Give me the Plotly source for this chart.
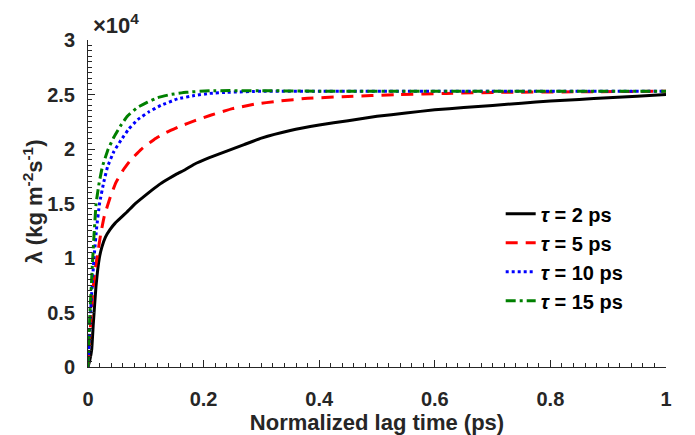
import plotly.graph_objects as go

# Normalized lag time (ps) and lambda values (x 1e4 kg m^-2 s^-1)
t_2 = [0.0, 0.003, 0.0064, 0.0092, 0.0138, 0.0196, 0.024, 0.03, 0.038, 0.047, 0.057, 0.067, 0.08, 0.096, 0.11, 0.125, 0.14, 0.153, 0.168, 0.184, 0.21, 0.24, 0.27, 0.30, 0.35, 0.40, 0.45, 0.50, 0.55, 0.60, 0.65, 0.70, 0.75, 0.80, 0.85, 0.90, 0.95, 1.0]
v_2 = [0.0, 0.06, 0.16, 0.40, 0.74, 1.0, 1.10, 1.19, 1.26, 1.32, 1.37, 1.42, 1.49, 1.56, 1.62, 1.68, 1.73, 1.77, 1.81, 1.86, 1.92, 1.98, 2.04, 2.10, 2.17, 2.22, 2.26, 2.30, 2.33, 2.36, 2.38, 2.40, 2.42, 2.44, 2.455, 2.47, 2.485, 2.50]

t_5 = [0.0, 0.004, 0.008, 0.012, 0.017, 0.022, 0.028, 0.038, 0.048, 0.06, 0.074, 0.085, 0.095, 0.115, 0.135, 0.16, 0.185, 0.212, 0.25, 0.287, 0.33, 0.38, 0.44, 0.54, 0.62, 0.71, 0.85, 1.0]
v_5 = [0.0, 0.35, 0.68, 0.88, 1.05, 1.22, 1.38, 1.55, 1.69, 1.80, 1.90, 1.96, 2.01, 2.09, 2.15, 2.21, 2.26, 2.31, 2.37, 2.41, 2.44, 2.465, 2.48, 2.50, 2.51, 2.52, 2.525, 2.53]

t_10 = [0.0, 0.004, 0.008, 0.011, 0.015, 0.02, 0.027, 0.034, 0.045, 0.057, 0.07, 0.086, 0.105, 0.126, 0.155, 0.184, 0.21, 0.241, 0.30, 0.40, 0.60, 0.80, 1.0]
v_10 = [0.0, 0.45, 0.82, 1.04, 1.28, 1.50, 1.69, 1.84, 1.98, 2.08, 2.18, 2.27, 2.34, 2.40, 2.46, 2.49, 2.51, 2.52, 2.53, 2.53, 2.53, 2.53, 2.53]

t_15 = [0.0, 0.003, 0.008, 0.011, 0.014, 0.019, 0.025, 0.035, 0.045, 0.056, 0.068, 0.085, 0.103, 0.12, 0.143, 0.17, 0.212, 0.30, 0.40, 0.60, 0.80, 1.0]
v_15 = [0.0, 0.45, 0.98, 1.26, 1.50, 1.68, 1.84, 2.00, 2.11, 2.21, 2.30, 2.38, 2.43, 2.47, 2.50, 2.52, 2.535, 2.535, 2.53, 2.53, 2.53, 2.53]

names = ["<i>τ</i> = 2 ps", "<i>τ</i> = 5 ps", "<i>τ</i> = 10 ps", "<i>τ</i> = 15 ps"]
x_ticks = [0, 0.2, 0.4, 0.6, 0.8, 1]
x_tick_text = ["0", "0.2", "0.4", "0.6", "0.8", "1"]
y_ticks = [0, 0.5, 1, 1.5, 2, 2.5, 3]
y_tick_text = ["0", "0.5", "1", "1.5", "2", "2.5", "3"]

FONT = "Liberation Sans, Arial, sans-serif"
AX = "#262626"
styles = [
    dict(color="black", dash="solid", width=3),
    dict(color="#ff0000", dash="12px,8px", width=3),
    dict(color="#0000ff", dash="3px,3px", width=3),
    dict(color="#008000", dash="10px,4px,3px,4px", width=3),
]

fig = go.Figure()
for i, (t, v) in enumerate([(t_2, v_2), (t_5, v_5), (t_10, v_10), (t_15, v_15)]):
    fig.add_trace(go.Scatter(
        x=t, y=v, mode="lines", name=names[i],
        line=dict(shape="spline", smoothing=0.3, **styles[i]),
    ))

axis_common = dict(
    showline=True, linecolor=AX, linewidth=1,
    ticks="inside", ticklen=7, tickcolor=AX, tickwidth=1,
    showgrid=False, zeroline=False, mirror=False, automargin=False,
    tickfont=dict(family=FONT, size=20, color=AX, weight="bold"),
)
over_common = dict(
    showline=False, ticks="outside", ticklen=5, tickcolor=AX, tickwidth=1,
    showticklabels=False, showgrid=False, zeroline=False, automargin=False,
)

fig.update_layout(
    width=695, height=435,
    margin=dict(l=88, r=29, t=40, b=68),
    paper_bgcolor="white", plot_bgcolor="white",
    showlegend=True,
    legend=dict(
        x=0.714, y=0.528, xanchor="left", yanchor="top",
        bgcolor="rgba(0,0,0,0)",
        font=dict(family=FONT, size=20, color="black", weight="bold"),
        tracegroupgap=0, itemwidth=30,
    ),
    xaxis=dict(
        range=[0, 1], tickvals=x_ticks, ticktext=x_tick_text,
        minor=dict(dtick=0.02, ticks="inside", ticklen=4, tickcolor=AX),
        ticklabelstandoff=14,
        title=dict(text="Normalized lag time (ps)", standoff=6,
                   font=dict(family=FONT, size=22, color=AX, weight="bold")),
        **axis_common,
    ),
    yaxis=dict(
        range=[0, 3], tickvals=y_ticks, ticktext=y_tick_text,
        minor=dict(dtick=0.05, ticks="inside", ticklen=4, tickcolor=AX),
        ticklabelstandoff=8,
        **axis_common,
    ),
    xaxis2=dict(overlaying="x", anchor="y", side="bottom", range=[0, 1],
                tickvals=x_ticks, **over_common),
    yaxis2=dict(overlaying="y", anchor="x", side="left", range=[0, 3],
                tickvals=y_ticks, **over_common),
)

# y-axis title placed as rotated text
fig.add_annotation(
    xref="paper", yref="paper", x=0, y=0.5, xanchor="center", yanchor="middle",
    xshift=-56, yshift=2, showarrow=False, textangle=-90,
    text="λ (kg m<sup>-2</sup>s<sup>-1</sup>)",
    font=dict(family=FONT, size=22, color=AX, weight="bold"),
)

fig.add_annotation(
    xref="paper", yref="paper", x=0, y=1, xanchor="left", yanchor="bottom",
    xshift=3, yshift=0, showarrow=False,
    text="×10<sup>4</sup>",
    font=dict(family=FONT, size=22, color=AX, weight="bold"),
)

fig.write_html("out.html")
